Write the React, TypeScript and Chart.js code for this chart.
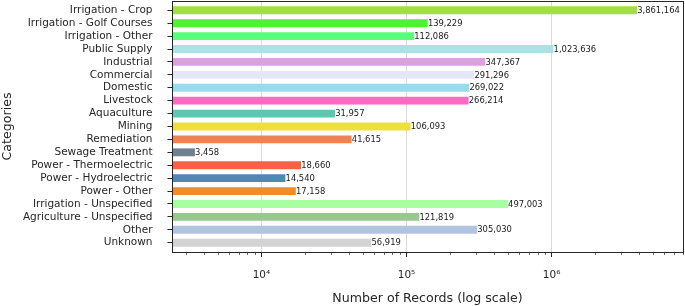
import React, { useEffect, useRef } from "react";
import { Chart, registerables } from "chart.js";

Chart.register(...registerables);

const categories: string[] = [
  "Irrigation - Crop",
  "Irrigation - Golf Courses",
  "Irrigation - Other",
  "Public Supply",
  "Industrial",
  "Commercial",
  "Domestic",
  "Livestock",
  "Aquaculture",
  "Mining",
  "Remediation",
  "Sewage Treatment",
  "Power - Thermoelectric",
  "Power - Hydroelectric",
  "Power - Other",
  "Irrigation - Unspecified",
  "Agriculture - Unspecified",
  "Other",
  "Unknown",
];

const recordCounts: number[] = [
  3861164, 139229, 112086, 1023636, 347367, 291296, 269022, 266214, 31957,
  106093, 41615, 3458, 18660, 14540, 17158, 497003, 121819, 305030, 56919,
];

const barColors: string[] = [
  "#a3df3e",
  "#50f032",
  "#58ff7a",
  "#b0e0e6",
  "#dca0e2",
  "#e6e6fa",
  "#98dcec",
  "#f96cc2",
  "#5cc8b2",
  "#ede03c",
  "#f28052",
  "#708090",
  "#f86048",
  "#4f88b8",
  "#f28c28",
  "#a8ffa0",
  "#98c890",
  "#b0c4e0",
  "#d3d3d3",
];

const majorTickLabels: Record<number, string> = {
  10000: "10⁴",
  100000: "10⁵",
  1000000: "10⁶",
};

const X_MIN = 2417;
const X_MAX = 8.05e6;
const FONT = "'DejaVu Sans', sans-serif";
const INK = "#262626";

function isMajor(v: number): boolean {
  const l = Math.log10(v);
  return Math.abs(l - Math.round(l)) < 1e-9;
}

const framePlugin = {
  id: "frame",
  afterDatasetsDraw(chart: any) {
    const { ctx, chartArea: a } = chart;
    const xs = chart.scales.x;
    ctx.save();
    ctx.strokeStyle = INK;
    ctx.lineWidth = 0.8;
    xs.ticks.forEach((t: any) => {
      if (isMajor(t.value)) return;
      const px = Math.round(xs.getPixelForValue(t.value)) + 0.5;
      ctx.beginPath();
      ctx.moveTo(px, a.bottom);
      ctx.lineTo(px, a.bottom + 2.8);
      ctx.stroke();
    });
    const meta = chart.getDatasetMeta(0);
    ctx.fillStyle = "#1a1a1a";
    ctx.font = `8.4px ${FONT}`;
    ctx.textBaseline = "middle";
    ctx.textAlign = "left";
    meta.data.forEach((el: any, i: number) => {
      ctx.fillText(recordCounts[i].toLocaleString("en-US"), el.x + 0.5, el.y + 0.5);
    });
    ctx.strokeStyle = INK;
    ctx.lineWidth = 1;
    ctx.strokeRect(
      Math.round(a.left) + 0.5,
      Math.round(a.top) + 0.5,
      Math.round(a.right - a.left),
      Math.round(a.bottom - a.top)
    );
    ctx.restore();
  },
};

export default function App() {
  const ref = useRef<HTMLCanvasElement | null>(null);

  useEffect(() => {
    document.body.style.margin = "0";
    const canvas = ref.current;
    if (!canvas) return;
    const chart = new Chart(canvas, {
      type: "bar",
      data: {
        datasets: [
          {
            data: recordCounts.map((v, i) => ({ x: v, y: i })),
            backgroundColor: barColors,
            borderWidth: 0,
            barThickness: 7.2,
          } as any,
        ],
      },
      plugins: [framePlugin],
      options: {
        indexAxis: "y",
        animation: false,
        responsive: false,
        devicePixelRatio: 1,
        layout: { padding: { top: 1, right: 2, left: 0, bottom: 0 } },
        plugins: {
          legend: { display: false },
          tooltip: { enabled: false },
        },
        scales: {
          x: {
            type: "logarithmic",
            min: X_MIN,
            max: X_MAX,
            position: "bottom",
            offset: false,
            border: { display: false },
            afterBuildTicks(scale: any) {
              const ticks: any[] = [];
              for (let e = 3; e <= 6; e++) {
                for (let m = 1; m <= 9; m++) {
                  const v = m * Math.pow(10, e);
                  if (v >= X_MIN && v <= X_MAX) ticks.push({ value: v });
                }
              }
              scale.ticks = ticks;
            },
            afterFit(scale: any) {
              scale.height = 54;
              scale.paddingLeft = 0;
              scale.paddingRight = 0;
              scale.paddingTop = 0;
              scale.paddingBottom = 0;
            },
            grid: {
              offset: false,
              drawOnChartArea: true,
              color: (c: any) =>
                c.tick && isMajor(c.tick.value) ? "#dadada" : "rgba(0,0,0,0)",
              tickColor: (c: any) =>
                c.tick && isMajor(c.tick.value) ? INK : "rgba(0,0,0,0)",
              tickLength: 5,
              lineWidth: 1,
            },
            ticks: {
              autoSkip: false,
              maxRotation: 0,
              minRotation: 0,
              padding: 12,
              color: INK,
              font: { family: FONT, size: 10.5 },
              callback: (v: any) => majorTickLabels[Math.round(Number(v))] || "",
            },
            title: {
              display: true,
              text: "Number of Records (log scale)",
              color: INK,
              font: { family: FONT, size: 12.6 },
              padding: { top: 4, bottom: 0 },
            },
          },
          y: {
            type: "linear",
            reverse: true,
            offset: false,
            min: -0.72,
            max: categories.length - 1 + 0.72,
            border: { display: false },
            afterBuildTicks(scale: any) {
              scale.ticks = categories.map((_, i) => ({ value: i }));
            },
            afterFit(scale: any) {
              scale.width = 172;
              scale.paddingTop = 0;
              scale.paddingBottom = 0;
              scale.paddingLeft = 0;
              scale.paddingRight = 0;
            },
            grid: {
              offset: false,
              drawOnChartArea: false,
              tickColor: INK,
              tickLength: 4.5,
            },
            ticks: {
              autoSkip: false,
              padding: 15,
              color: INK,
              font: { family: FONT, size: 10.5 },
              callback: (v: any) => categories[Math.round(Number(v))] ?? "",
            },
            title: {
              display: true,
              text: "Categories",
              color: INK,
              font: { family: FONT, size: 12.6 },
              padding: { top: 0, bottom: 0 },
            },
          },
        },
      } as any,
    });
    return () => chart.destroy();
  }, []);

  return (
    <div style={{ position: "absolute", left: 0, top: 0, width: 685, height: 306 }}>
      <canvas ref={ref} width={685} height={306} style={{ width: 685, height: 306 }} />
    </div>
  );
}
